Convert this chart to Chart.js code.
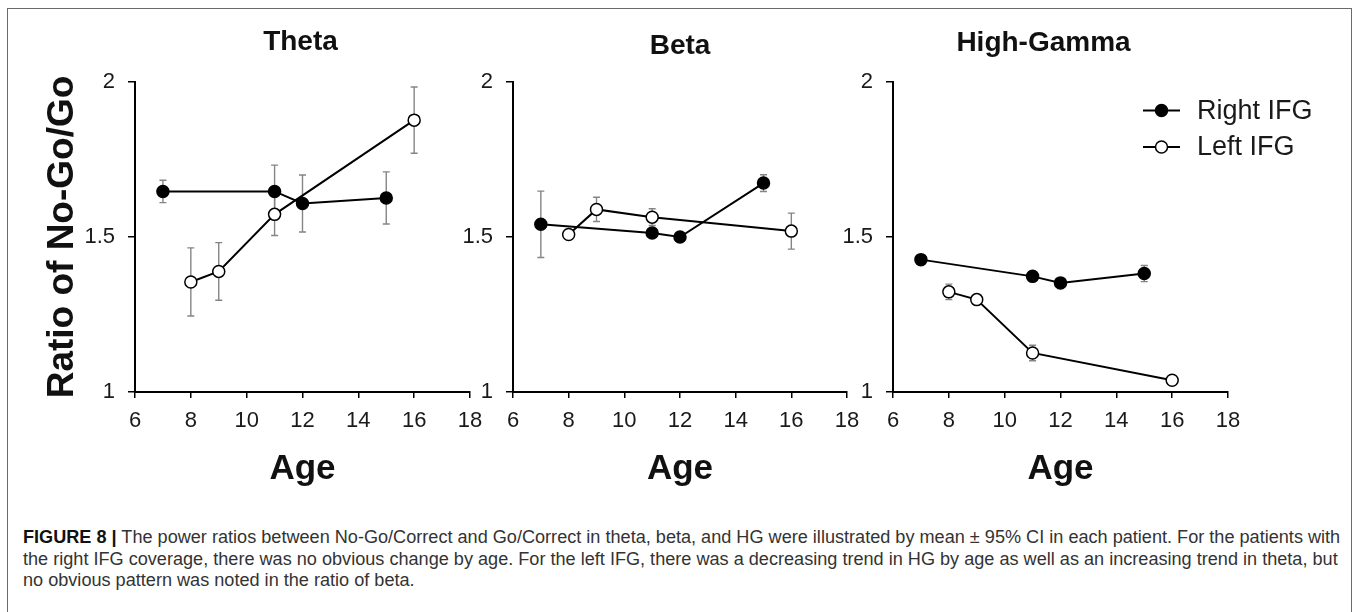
<!DOCTYPE html>
<html>
<head>
<meta charset="utf-8">
<script src="https://cdn.jsdelivr.net/npm/chart.js@4.4.1/dist/chart.umd.min.js"></script>
<style>
  body { margin: 0; background: #fff; width: 1357px; height: 612px; overflow: hidden; position: relative; }
  .frame { position: absolute; left: 7px; top: 8px; width: 1345px; height: 700px; border: 1px solid #6a6a6a; box-sizing: border-box; }
  canvas { position: absolute; top: 0; }
  #caption { position: absolute; left: 23px; top: 527px; font-family: "Liberation Sans", Arial, sans-serif; color: #333; line-height: 21.7px; white-space: nowrap; }
  #caption b { color: #111; }
</style>
</head>
<body>
<div class="frame"></div>
<canvas id="theta" width="495" height="490" style="left:0px"></canvas>
<canvas id="beta" width="414" height="490" style="left:458px"></canvas>
<canvas id="hg" width="521" height="490" style="left:836px"></canvas>
<div id="caption">
  <div id="cap1"><b>FIGURE 8 |</b> The power ratios between No-Go/Correct and Go/Correct in theta, beta, and HG were illustrated by mean ± 95% CI in each patient. For the patients with</div>
  <div>the right IFG coverage, there was no obvious change by age. For the left IFG, there was a decreasing trend in HG by age as well as an increasing trend in theta, but</div>
  <div>no obvious pattern was noted in the ratio of beta.</div>
</div>
<script>
// ages of the patients in each group
const rightAges = [7, 11, 12, 15];
const leftAges = [8, 9, 11, 16];

// mean ratio and 95% CI half-width, per band
const thetaRight = [1.647, 1.647, 1.608, 1.626];
const thetaRightErr = [0.036, 0.085, 0.092, 0.084];
const thetaLeft = [1.355, 1.389, 1.573, 1.877];
const thetaLeftErr = [0.110, 0.093, 0.068, 0.107];

const betaRight = [1.541, 1.513, 1.500, 1.674];
const betaRightErr = [0.107, 0.012, 0.015, 0.027];
const betaLeft = [1.508, 1.589, 1.564, 1.519];
const betaLeftErr = [0.015, 0.039, 0.027, 0.058];

const hgRight = [1.427, 1.373, 1.352, 1.382];
const hgRightErr = [0.008, 0.012, 0.010, 0.026];
const hgLeft = [1.323, 1.298, 1.126, 1.038];
const hgLeftErr = [0.025, 0.010, 0.025, 0.005];

const xTicks = [6, 8, 10, 12, 14, 16, 18];
const yTicks = [1, 1.5, 2];

const FONT = '"Liberation Sans", Arial, sans-serif';
Chart.defaults.font.family = FONT;
Chart.defaults.color = "#1a1a1a";

const errorBars = {
    id: "errorBars",
    beforeDatasetsDraw(chart) {
        const { ctx, scales: { x, y } } = chart;
        ctx.save();
        ctx.strokeStyle = "#858585";
        ctx.lineWidth = 1.4;
        chart.data.datasets.forEach(ds => {
            ds.data.forEach((p, i) => {
                const e = ds.errors[i];
                const px = x.getPixelForValue(p.x);
                const top = y.getPixelForValue(p.y + e);
                const bot = y.getPixelForValue(p.y - e);
                ctx.beginPath();
                ctx.moveTo(px, top); ctx.lineTo(px, bot);
                ctx.moveTo(px - 3.5, top); ctx.lineTo(px + 3.5, top);
                ctx.moveTo(px - 3.5, bot); ctx.lineTo(px + 3.5, bot);
                ctx.stroke();
            });
        });
        ctx.restore();
    }
};

// legend drawn inside the High-Gamma panel, reaching past the plot like the original
const panelLegend = {
    id: "panelLegend",
    afterLayout(chart, args, opts) {
        // the original centres this title a bit left of the plot
        if (opts.titleShift && chart.titleBlock) {
            chart.titleBlock.left += opts.titleShift;
            chart.titleBlock.right += opts.titleShift;
        }
    },
    afterDraw(chart, args, opts) {
        if (!opts.show) return;
        const { ctx, chartArea } = chart;
        ctx.save();
        chart.data.datasets.forEach((ds, i) => {
            const x0 = chartArea.left + 250;
            const y0 = chartArea.top + 28.5 + i * 36.5;
            ctx.strokeStyle = "#000";
            ctx.lineWidth = 2;
            ctx.beginPath();
            ctx.moveTo(x0, y0); ctx.lineTo(x0 + 37, y0);
            ctx.stroke();
            ctx.beginPath();
            ctx.arc(x0 + 18.5, y0, 6, 0, Math.PI * 2);
            ctx.fillStyle = ds.pointBackgroundColor;
            ctx.fill();
            ctx.lineWidth = 1.5;
            ctx.stroke();
            ctx.fillStyle = "#1a1a1a";
            ctx.font = "27px " + FONT;
            ctx.textBaseline = "middle";
            ctx.fillText(ds.label, x0 + 54, y0 + 1);
        });
        ctx.restore();
    }
};

function pts(ages, vals) {
    return ages.map((a, i) => ({ x: a, y: vals[i] }));
}

function makePanel(id, cfg, r, rErr, l, lErr) {
    const titleBottom = 82 - cfg.titleTop - 33.6;
    return new Chart(document.getElementById(id), {
        type: "line",
        data: {
            datasets: [{
                label: "Right IFG",
                data: pts(rightAges, r),
                errors: rErr,
                borderColor: "#000",
                borderWidth: 2,
                pointBackgroundColor: "#000",
                pointBorderColor: "#000",
                pointBorderWidth: 1.5,
                pointRadius: 6,
                tension: 0
            }, {
                label: "Left IFG",
                data: pts(leftAges, l),
                errors: lErr,
                borderColor: "#000",
                borderWidth: 2,
                pointBackgroundColor: "#fff",
                pointBorderColor: "#000",
                pointBorderWidth: 1.5,
                pointRadius: 6,
                tension: 0
            }]
        },
        options: {
            responsive: false,
            animation: false,
            layout: { padding: { left: 0, right: cfg.padRight, top: 0, bottom: 0 } },
            plugins: {
                legend: { display: false },
                tooltip: { enabled: false },
                title: {
                    display: true,
                    text: cfg.title,
                    fullSize: false,
                    color: "#111",
                    font: { size: 28, weight: "bold", lineHeight: 1.2 },
                    padding: { top: cfg.titleTop, bottom: titleBottom }
                },
                panelLegend: { show: cfg.legend, titleShift: cfg.titleShift }
            },
            scales: {
                x: {
                    type: "linear",
                    min: 6, max: 18,
                    afterBuildTicks: s => { s.ticks = xTicks.map(v => ({ value: v })); },
                    afterFit: s => { s.height = 98; },
                    grid: { drawOnChartArea: false, drawTicks: true, tickLength: 6, color: "#000", lineWidth: 1.5 },
                    border: { color: "#000", width: 2 },
                    ticks: { padding: 10, font: { size: 22 }, color: "#1a1a1a" },
                    title: {
                        display: true, text: "Age", color: "#111",
                        font: { size: 35, weight: "bold", lineHeight: 1.2 },
                        padding: { top: 0, bottom: 0 }
                    }
                },
                y: {
                    min: 1, max: 2,
                    afterBuildTicks: s => { s.ticks = yTicks.map(v => ({ value: v })); },
                    afterFit: s => { s.width = cfg.yWidth; },
                    grid: { drawOnChartArea: false, drawTicks: true, tickLength: 7, color: "#000", lineWidth: 1.5 },
                    border: { color: "#000", width: 2 },
                    ticks: { padding: 13, font: { size: 22 }, color: "#1a1a1a", callback: v => String(v) },
                    title: {
                        display: cfg.yTitle, text: "Ratio of No-Go/Go", color: "#111",
                        font: { size: 37, weight: "bold", lineHeight: 1.2 },
                        padding: { top: 40.8, bottom: 0 }
                    }
                }
            }
        },
        plugins: [errorBars, panelLegend]
    });
}

makePanel("theta", { title: "Theta", titleTop: 25.2, padRight: 25, yWidth: 135, yTitle: true, legend: false, titleShift: -2 },
    thetaRight, thetaRightErr, thetaLeft, thetaLeftErr);
makePanel("beta", { title: "Beta", titleTop: 29.2, padRight: 25, yWidth: 55, yTitle: false, legend: false, titleShift: 0 },
    betaRight, betaRightErr, betaLeft, betaLeftErr);
makePanel("hg", { title: "High-Gamma", titleTop: 26.2, padRight: 129, yWidth: 57, yTitle: false, legend: true, titleShift: -17 },
    hgRight, hgRightErr, hgLeft, hgLeftErr);

// fit the first caption line to the width it has in the figure
const cap = document.getElementById("caption");
const cap1 = document.getElementById("cap1");
let size = 17.5;
cap.style.fontSize = size + "px";
size = size * 1318 / cap1.getBoundingClientRect().width;
cap.style.fontSize = size + "px";
</script>
</body>
</html>
